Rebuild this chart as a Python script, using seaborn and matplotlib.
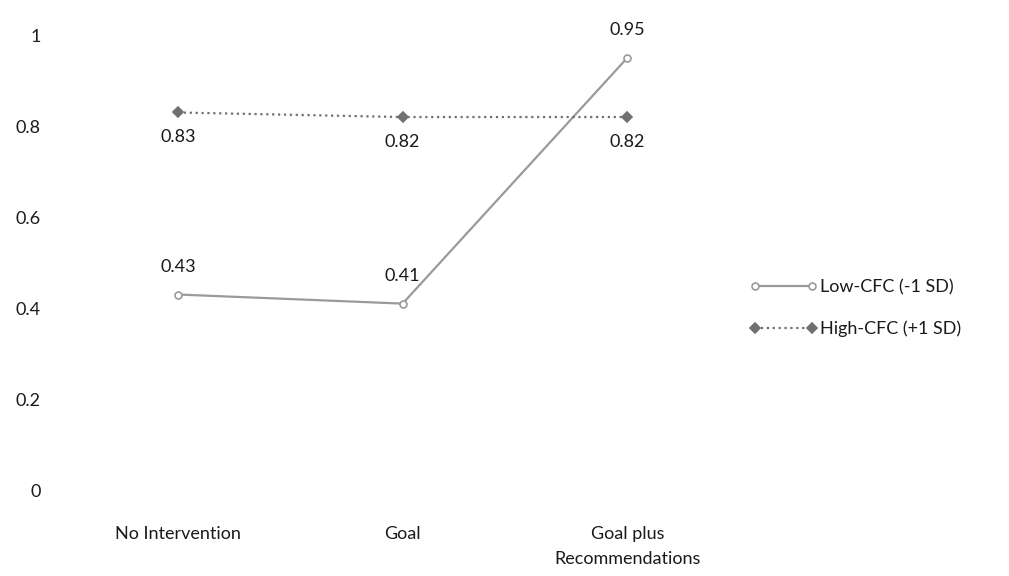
import matplotlib
matplotlib.use('Agg')
import matplotlib.pyplot as plt
import seaborn as sns
import pandas as pd

CONDITIONS = ['No Intervention', 'Goal', 'Goal plus\nRecommendations']
LOW_CFC = [0.43, 0.41, 0.95]
HIGH_CFC = [0.83, 0.82, 0.82]
SERIES = ['Low-CFC (-1 SD)', 'High-CFC (+1 SD)']

sns.set_theme(style='white')
plt.rcParams['font.family'] = ['Lato', 'DejaVu Sans']

df = pd.DataFrame({
    'condition': CONDITIONS * 2,
    'value': LOW_CFC + HIGH_CFC,
    'series': [SERIES[0]] * 3 + [SERIES[1]] * 3,
})

fig = plt.figure(figsize=(10.09, 5.76), dpi=100)
ax = fig.add_axes([0.065, 0.149, 0.668, 0.79])

sns.pointplot(data=df, x='condition', y='value', hue='series',
              hue_order=SERIES, palette=['#9a9a9a', '#707070'],
              markers=['o', 'D'], linestyles=['-', ':'],
              ax=ax, markersize=5, linewidth=1.6)

# open circle markers for Low-CFC
ax.lines[0].set_markerfacecolor('white')

TXT = '#1a1a1a'
for i, v in enumerate(LOW_CFC):
    ax.annotate(f'{v:.2f}', (i, v), xytext=(0, 14), textcoords='offset points',
                ha='center', va='bottom', fontsize=13, color=TXT)
for i, v in enumerate(HIGH_CFC):
    ax.annotate(f'{v:.2f}', (i, v), xytext=(0, -12), textcoords='offset points',
                ha='center', va='top', fontsize=13, color=TXT)

ax.set_ylim(0, 1)
ax.set_xlim(-0.5, 2.5)
ax.set_yticks([0, 0.2, 0.4, 0.6, 0.8, 1.0])
ax.set_yticklabels(['0', '0.2', '0.4', '0.6', '0.8', '1'])
ax.tick_params(axis='y', labelsize=13, pad=18, colors=TXT, length=0)
ax.tick_params(axis='x', labelsize=13, pad=26, colors=TXT, length=0)
for lbl in ax.get_xticklabels():
    lbl.set_linespacing(1.7)
ax.set_xlabel('')
ax.set_ylabel('')
sns.despine(ax=ax, left=True, bottom=True)

leg = ax.legend(loc='center left', bbox_to_anchor=(0.99, 0.40), frameon=False,
                fontsize=13, handlelength=3.8, handletextpad=0.1,
                labelspacing=1.4, numpoints=2)
leg.get_lines()[0].set_markerfacecolor('white')
for t in leg.get_texts():
    t.set_color(TXT)

fig.savefig('out.png', dpi=100)
